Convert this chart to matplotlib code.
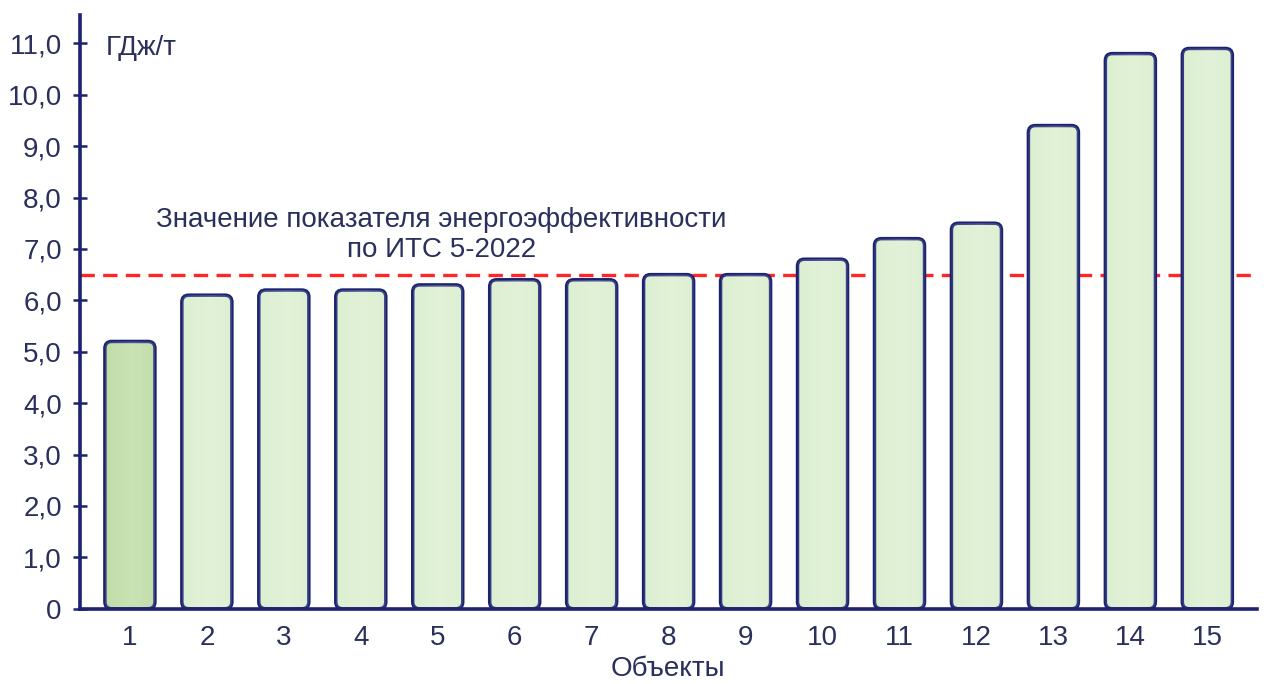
import matplotlib
matplotlib.use("Agg")
import matplotlib.pyplot as plt
import numpy as np
from matplotlib.patches import FancyBboxPatch
from matplotlib.ticker import FixedLocator, FuncFormatter

plt.rcParams['font.family'] = ['Liberation Sans Narrow', 'Liberation Sans', 'DejaVu Sans']

objects = [str(i) for i in range(1, 16)]
values = [5.2, 6.1, 6.2, 6.2, 6.3, 6.4, 6.4, 6.5, 6.5, 6.8, 7.2, 7.5, 9.4, 10.8, 10.9]
benchmark = 6.5
benchmark_label = "Значение показателя энергоэффективности\nпо ИТС 5-2022"
y_ticks = [0, 1, 2, 3, 4, 5, 6, 7, 8, 9, 10, 11]
unit_label = "ГДж/т"
x_label = "Объекты"

navy = "#1b2270"
text_col = "#2b2f5c"
fill_main = "#d8edcb"
fill_first = "#b8d99c"

fig = plt.figure(figsize=(12.68, 6.84), dpi=100)
ax = fig.add_axes([0.063, 0.110, 0.928, 0.868])

x = np.arange(1, len(values) + 1)
bars = ax.bar(x, values, width=0.65, color="none", edgecolor="none")

ax.set_xlim(0.35, 15.64)
ax.set_ylim(0, 11.55)

# pixel-per-unit ratio for rounded corners
fig.canvas.draw()
bbox = ax.get_window_extent()
px_x = bbox.width / (15.64 - 0.35)
px_y = bbox.height / 11.55
aspect = px_x / px_y

for i, b in enumerate(bars):
    bx, by = b.get_x(), b.get_y()
    bw, bh = b.get_width(), b.get_height()
    fc = fill_first if i == 0 else fill_main
    patch = FancyBboxPatch((bx, by), bw, bh,
                           boxstyle="round,pad=0,rounding_size=0.09",
                           mutation_aspect=aspect,
                           facecolor=fc, edgecolor=navy, linewidth=2.5,
                           zorder=3)
    ax.add_patch(patch)
    # soft horizontal sheen inside the bar
    grad = np.linspace(0, 1, 64)
    shade = 1 - 0.5 * np.abs(grad - 0.55) * 2
    img = np.ones((2, 64, 4))
    img[..., :3] = 1.0
    img[..., 3] = 0.25 * shade
    im = ax.imshow(img, extent=(bx, bx + bw, by, by + bh), aspect="auto",
                   zorder=3.5, interpolation="bicubic")
    im.set_clip_path(patch)

ax.axhline(benchmark, color="#ff2626", linewidth=2.4, linestyle=(0, (4.3, 2.5)),
           zorder=2)
ax.text(5.05, 6.72, benchmark_label, ha="center", va="bottom", fontsize=20,
        color=text_col, linespacing=1.2, zorder=4)

ax.text(0.68, 10.9, unit_label, ha="left", va="center", fontsize=20,
        color=text_col)

for s in ["top", "right"]:
    ax.spines[s].set_visible(False)
for s in ["left", "bottom"]:
    ax.spines[s].set_color(navy)
    ax.spines[s].set_linewidth(2.6)
    ax.spines[s].set_zorder(5)

ax.yaxis.set_major_locator(FixedLocator(y_ticks))
ax.yaxis.set_major_formatter(FuncFormatter(
    lambda v, p: "0" if v == 0 else f"{v:.1f}".replace(".", ",")))
ax.tick_params(axis="y", direction="inout", length=10, width=1.8, color=navy,
               labelsize=20, labelcolor=text_col, pad=8)
ax.set_xticks(x)
ax.set_xticklabels(objects)
ax.tick_params(axis="x", length=0, labelsize=20, labelcolor=text_col, pad=12)
ax.set_xlabel(x_label, fontsize=20, color=text_col, labelpad=3)

fig.savefig("out.png", dpi=100)
